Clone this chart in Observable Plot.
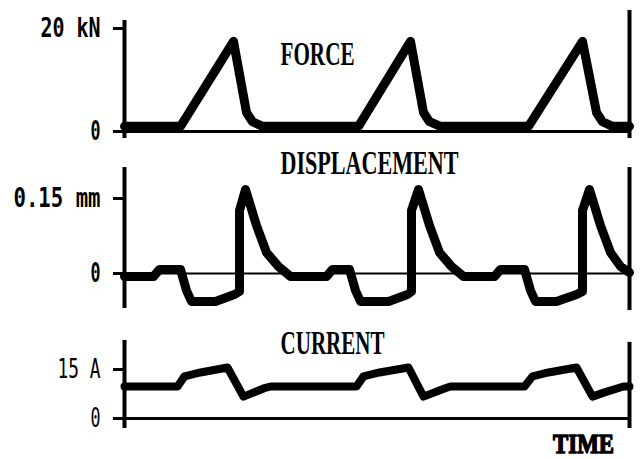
<!DOCTYPE html>
<html><head><meta charset="utf-8">
<script src="https://cdn.jsdelivr.net/npm/d3@7"></script>
<script src="https://cdn.jsdelivr.net/npm/@observablehq/plot@0.6"></script>
<style>
body{margin:0;background:#fff;}
#chart{position:relative;width:642px;height:459px;overflow:hidden;background:#fff}
#chart svg{position:absolute;left:0;overflow:visible;background:transparent}
</style></head><body><div id="chart"></div>
<script>
// ---- data (time in arbitrary units) ----
const forceTime = [0, 56, 109, 122, 128, 138, 234, 286, 299, 305, 316, 404, 458, 472, 478, 488, 505];
const forceKN   = [1.0, 1.0, 17.5, 3.7, 1.9, 1.0, 1.0, 17.5, 3.7, 1.9, 1.0, 1.0, 17.5, 3.7, 1.9, 1.0, 1.0];
const forceTicks = [0, 20];
const forceTickLabels = ["0", "20 kN"];

const dispTime = [0, 29, 35, 56, 62, 67, 91, 110, 115, 115, 121, 132, 142, 154, 166,
                  202, 208, 225, 231, 236, 264, 283, 287, 287, 294, 305, 315, 327, 339,
                  370, 376, 400, 406, 411, 432, 452, 458, 458, 465, 476, 486, 496, 505];
const dispMM = [-0.006, -0.006, 0.008, 0.008, -0.034, -0.056, -0.056, -0.042, -0.036, 0.126, 0.168, 0.096, 0.042, 0.014, -0.006,
                -0.006, 0.008, 0.008, -0.034, -0.056, -0.056, -0.042, -0.036, 0.126, 0.168, 0.096, 0.042, 0.014, -0.006,
                -0.006, 0.008, 0.008, -0.034, -0.056, -0.056, -0.042, -0.036, 0.126, 0.168, 0.096, 0.042, 0.014, 0.002];
const dispTicks = [0, 0.15];
const dispTickLabels = ["0", "0.15 mm"];

const currTime = [0, 53, 60, 76, 103, 119, 139, 146,
                  232, 239, 255, 284, 299, 320, 326,
                  400, 408, 424, 452, 468, 480, 499, 505];
const currA = [9.8, 9.8, 12.9, 14.1, 15.6, 6.7, 9.2, 9.8,
               9.8, 12.9, 14.1, 15.6, 6.7, 9.2, 9.8,
               9.8, 12.9, 14.1, 15.6, 6.7, 8.0, 9.8, 9.8];
const currTicks = [0, 15];
const currTickLabels = ["0", "15 A"];

const titles = ["FORCE", "DISPLACEMENT", "CURRENT"];
const xLabel = "TIME";

// ---- layout / style ----
const W = 642, ML = 124, MR = 13, T_END = 505;
const textWidths = {"20 kN": 60, "0.15 mm": 87, "15 A": 43, "0": 10,
  "FORCE": 74, "DISPLACEMENT": 178, "CURRENT": 104, "TIME": 61};

function panel(o) {
  const marks = [
    Plot.ruleY([0], {stroke: "black", strokeWidth: o.zeroWidth}),
    Plot.ruleX([0], {y1: o.spine[0], y2: o.spine[1], stroke: "black", strokeWidth: 4}),
    Plot.ruleX([T_END], {y1: o.rightSpine[0], y2: o.rightSpine[1], stroke: "black", strokeWidth: 4}),
    Plot.axisY({ticks: o.ticks, tickFormat: d => o.tickLabels[o.ticks.indexOf(d)],
      tickSize: 11, tickPadding: 13, strokeWidth: 3, label: null}),
    Plot.line(o.values, {x: o.time, y: o.values, stroke: "black", strokeWidth: o.lineWidth,
      strokeLinejoin: "round", strokeLinecap: "round"}),
    Plot.text([o.title], {x: 156, y: o.titleY, text: d => d, textAnchor: "start",
      fontFamily: "Liberation Serif", fontWeight: "bold", fontSize: 33}),
    ...(o.extra || [])
  ];
  const svg = Plot.plot({
    width: W, height: o.height,
    marginLeft: ML, marginRight: MR, marginTop: o.marginTop, marginBottom: o.marginBottom,
    x: {domain: [0, T_END], axis: null},
    y: {domain: o.domain, axis: null},
    style: {background: "transparent", color: "black", overflow: "visible"},
    marks
  });
  svg.style.top = o.top + "px";
  document.getElementById("chart").appendChild(svg);
  svg.querySelectorAll("text").forEach(t => {
    const s = t.textContent;
    if (o.tickLabels.includes(s)) {
      t.style.fontFamily = o.tickFont;
      t.style.fontWeight = o.tickWeight;
      t.style.fontSize = o.tickSize + "px";
    }
    const w = textWidths[s];
    if (w) { t.setAttribute("textLength", w); t.setAttribute("lengthAdjust", "spacingAndGlyphs"); }
  });
  return svg;
}

panel({top: 0, height: 145, marginTop: 28, marginBottom: 14, domain: [0, 20],
  time: forceTime, values: forceKN, ticks: forceTicks, tickLabels: forceTickLabels,
  spine: [-1.36, 21.55], rightSpine: [-1.36, 23.5], zeroWidth: 3, lineWidth: 9,
  title: titles[0], titleY: 14.95,
  tickFont: "DejaVu Sans Mono", tickWeight: "bold", tickSize: 26});

panel({top: 145, height: 170, marginTop: 53, marginBottom: 42, domain: [0, 0.15],
  time: dispTime, values: dispMM, ticks: dispTicks, tickLabels: dispTickLabels,
  spine: [-0.070, 0.212], rightSpine: [-0.074, 0.212], zeroWidth: 2, lineWidth: 9,
  title: titles[1], titleY: 0.22,
  tickFont: "DejaVu Sans Mono", tickWeight: "bold", tickSize: 26});

panel({top: 315, height: 144, marginTop: 54, marginBottom: 41, domain: [0, 15],
  time: currTime, values: currA, ticks: currTicks, tickLabels: currTickLabels,
  spine: [-3.06, 23.9], rightSpine: [-3.06, 23.3], zeroWidth: 3, lineWidth: 8,
  title: titles[2], titleY: 22.96,
  tickFont: "DejaVu Sans Mono", tickWeight: "normal", tickSize: 27,
  extra: [Plot.text([xLabel], {x: 459, y: -7.96, text: d => d, textAnchor: "middle",
    fontFamily: "Liberation Serif", fontWeight: "bold", fontSize: 28,
    fill: "black", stroke: "black", strokeWidth: 1.5})]});
</script></body></html>
